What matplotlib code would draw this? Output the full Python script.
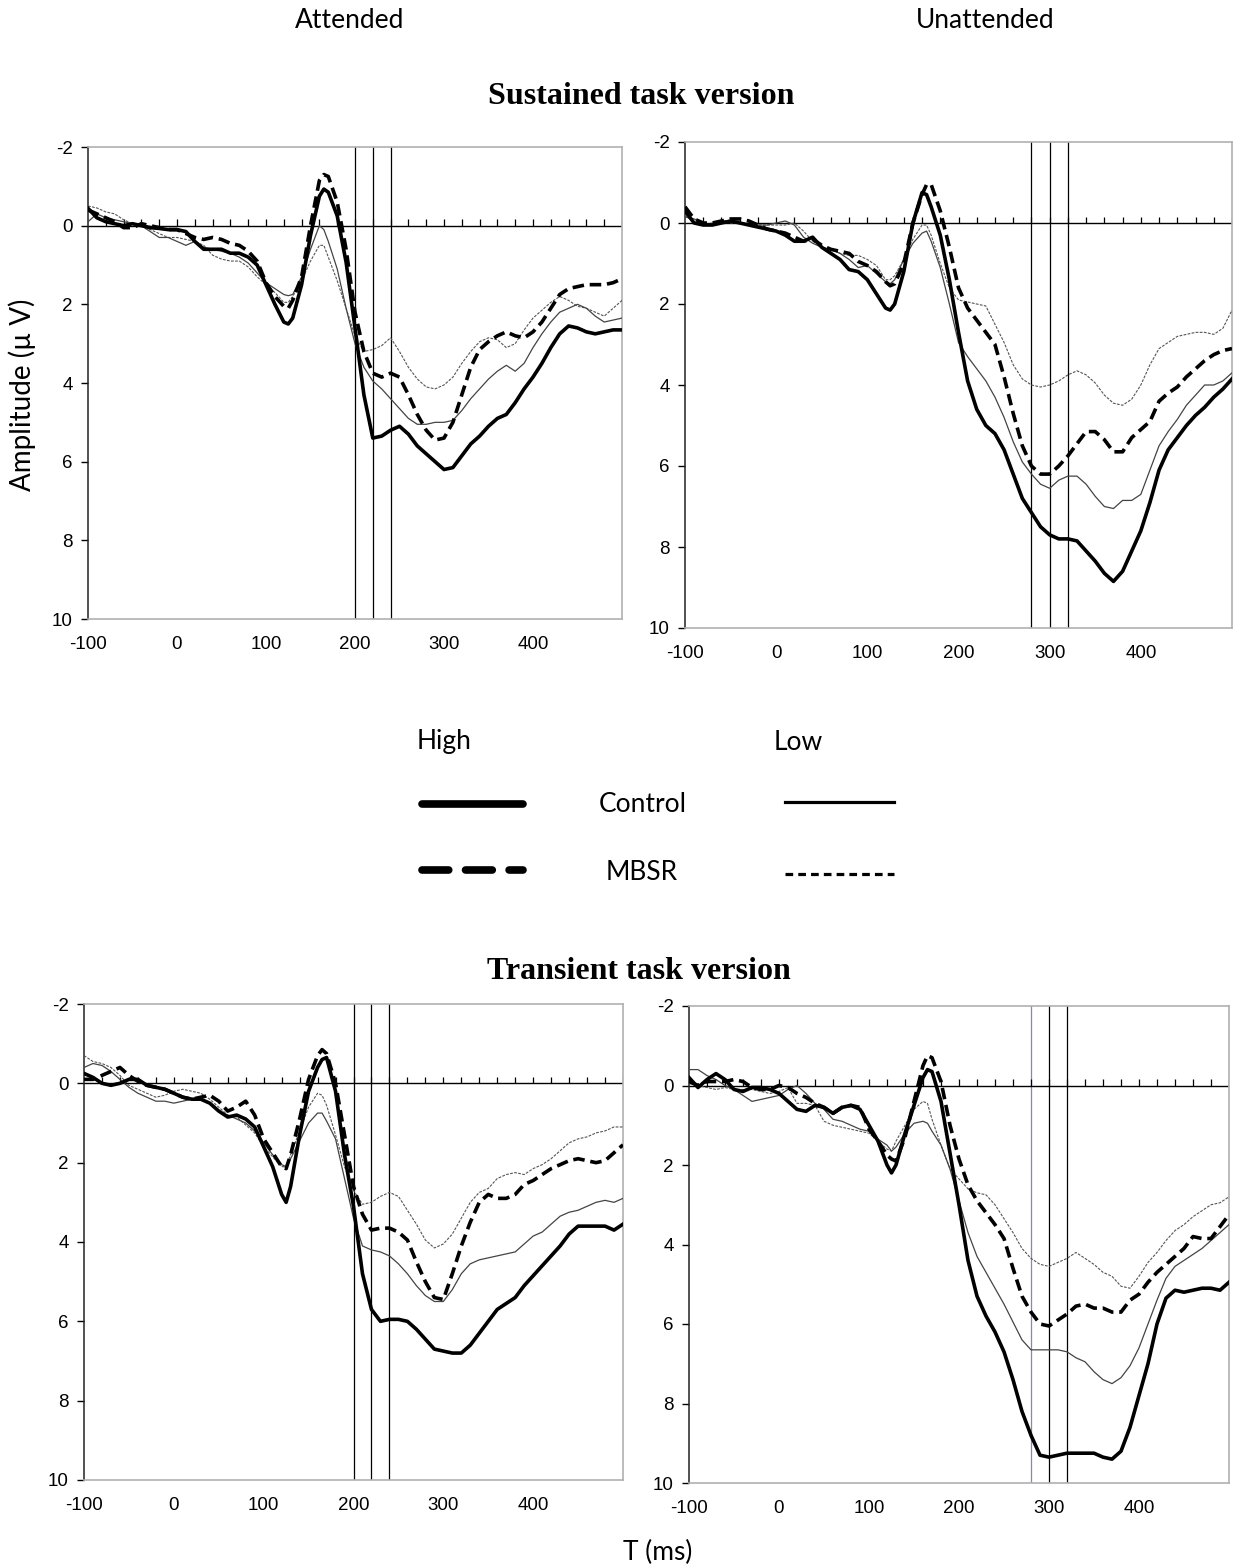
import numpy as np
import matplotlib
matplotlib.use("Agg")
import matplotlib.pyplot as plt
from matplotlib.lines import Line2D

plt.rcParams["axes.unicode_minus"] = False

# time base (ms)
TIME = [-100, -90, -80, -70, -60, -50, -40, -30, -20, -10, 0, 10, 20, 30, 40, 50,
        60, 70, 80, 90, 100, 110, 120, 125, 130, 140, 150, 160, 165, 170, 180,
        190, 200, 210, 220, 230, 240, 250, 260, 270, 280, 290, 300, 310, 320,
        330, 340, 350, 360, 370, 380, 390, 400, 410, 420, 430, 440, 450, 460,
        470, 480, 490, 500]

# ---- Sustained, attended (uV) ----
sus_att_high_control = [-0.44, -0.2, -0.1, -0.05, 0.0, -0.05, 0.0, 0.05, 0.07, 0.1, 0.1, 0.15, 0.4, 0.6, 0.6, 0.6,
                        0.7, 0.7, 0.8, 1.0, 1.5, 2.0, 2.45, 2.5, 2.35, 1.5, 0.25, -0.75, -0.93, -0.85, -0.25,
                        0.93, 2.6, 4.3, 5.4, 5.35, 5.2, 5.1, 5.3, 5.6, 5.8, 6.0, 6.2, 6.15, 5.85,
                        5.55, 5.35, 5.1, 4.9, 4.8, 4.5, 4.15, 3.85, 3.5, 3.1, 2.75, 2.55, 2.6, 2.7,
                        2.75, 2.7, 2.65, 2.65]
sus_att_high_mbsr = [-0.4, -0.3, -0.2, -0.1, 0.05, 0.05, -0.05, 0.0, 0.05, 0.1, 0.1, 0.2, 0.3, 0.35, 0.3, 0.35,
                     0.45, 0.5, 0.65, 0.9, 1.45, 1.8, 2.05, 2.1, 1.9, 1.3, 0.0, -1.15, -1.3, -1.25, -0.6,
                     0.6, 2.2, 3.2, 3.75, 3.85, 3.75, 3.85, 4.3, 4.8, 5.2, 5.45, 5.4, 5.0, 4.3,
                     3.6, 3.15, 2.95, 2.8, 2.7, 2.8, 2.85, 2.7, 2.45, 2.1, 1.75, 1.6, 1.55, 1.5,
                     1.5, 1.5, 1.45, 1.35]
sus_att_low_control = [-0.1, -0.3, -0.2, -0.15, -0.1, -0.05, 0.0, 0.15, 0.3, 0.3, 0.4, 0.5, 0.4, 0.55, 0.6, 0.65,
                       0.7, 0.8, 0.95, 1.2, 1.45, 1.6, 1.75, 1.78, 1.75, 1.3, 0.6, 0.0, 0.1, 0.4, 1.1,
                       2.1, 3.0, 3.6, 3.95, 4.15, 4.4, 4.65, 4.9, 5.05, 5.05, 5.0, 5.0, 4.95, 4.7,
                       4.4, 4.15, 3.9, 3.7, 3.55, 3.7, 3.5, 3.1, 2.75, 2.45, 2.2, 2.1, 2.0, 2.1,
                       2.3, 2.45, 2.4, 2.35]
sus_att_low_mbsr = [-0.5, -0.45, -0.35, -0.3, -0.15, -0.05, 0.0, 0.1, 0.2, 0.3, 0.3, 0.35, 0.4, 0.5, 0.75, 0.85,
                    0.9, 0.9, 1.05, 1.3, 1.5, 1.7, 1.95, 1.95, 1.8, 1.4, 0.9, 0.5, 0.5, 0.8, 1.4,
                    2.1, 2.8, 3.2, 3.15, 3.05, 2.85, 3.2, 3.6, 3.9, 4.1, 4.15, 4.05, 3.85, 3.5,
                    3.2, 2.95, 2.85, 2.9, 3.1, 3.0, 2.65, 2.35, 2.15, 1.95, 1.8, 1.9, 2.05, 2.1,
                    2.2, 2.3, 2.1, 1.9]

# ---- Sustained, unattended ----
sus_una_high_control = [-0.3, 0.0, 0.05, 0.05, 0.0, -0.05, 0.0, 0.05, 0.1, 0.15, 0.2, 0.3, 0.45, 0.45, 0.35, 0.6,
                        0.75, 0.9, 1.15, 1.2, 1.4, 1.75, 2.1, 2.15, 2.0, 1.2, 0.0, -0.75, -0.7, -0.4, 0.3,
                        1.4, 2.7, 3.9, 4.6, 5.0, 5.2, 5.6, 6.2, 6.8, 7.15, 7.5, 7.7, 7.8, 7.8,
                        7.85, 8.1, 8.35, 8.65, 8.85, 8.6, 8.1, 7.6, 6.9, 6.1, 5.6, 5.3, 5.0, 4.75,
                        4.55, 4.3, 4.1, 3.85]
sus_una_high_mbsr = [-0.4, -0.1, 0.0, 0.0, -0.05, -0.1, -0.1, -0.05, 0.05, 0.15, 0.2, 0.25, 0.35, 0.45, 0.4, 0.55,
                     0.65, 0.7, 0.75, 0.95, 1.05, 1.2, 1.45, 1.55, 1.5, 1.0, 0.0, -0.7, -0.95, -0.95, -0.3,
                     0.6, 1.6, 2.1, 2.4, 2.7, 3.0, 3.8, 4.7, 5.5, 6.0, 6.2, 6.2, 6.0, 5.75,
                     5.45, 5.15, 5.15, 5.35, 5.65, 5.65, 5.3, 5.1, 4.9, 4.4, 4.2, 4.05, 3.8, 3.6,
                     3.4, 3.25, 3.15, 3.1]
sus_una_low_control = [-0.15, -0.1, 0.0, 0.05, -0.05, -0.05, 0.0, 0.05, 0.05, 0.05, 0.0, -0.05, 0.05, 0.35, 0.5, 0.6,
                       0.65, 0.75, 0.9, 1.1, 1.05, 1.25, 1.45, 1.5, 1.4, 0.9, 0.5, 0.25, 0.2, 0.45, 1.1,
                       2.0, 2.95, 3.3, 3.6, 3.9, 4.3, 4.8, 5.4, 5.9, 6.2, 6.45, 6.55, 6.35, 6.25,
                       6.25, 6.45, 6.75, 7.0, 7.05, 6.85, 6.85, 6.7, 6.1, 5.5, 5.15, 4.85, 4.5, 4.25,
                       4.0, 4.0, 3.9, 3.7]
sus_una_low_mbsr = [-0.2, 0.0, 0.05, 0.0, -0.05, 0.0, 0.0, 0.05, 0.05, 0.05, 0.05, 0.05, 0.0, 0.2, 0.45, 0.6,
                    0.65, 0.75, 0.8, 0.8, 0.9, 1.05, 1.4, 1.4, 1.3, 0.9, 0.4, 0.05, 0.05, 0.3, 1.0,
                    1.6, 1.9, 1.95, 2.0, 2.05, 2.5, 2.95, 3.5, 3.85, 4.0, 4.05, 4.0, 3.9, 3.75,
                    3.65, 3.75, 3.95, 4.25, 4.45, 4.5, 4.35, 4.0, 3.5, 3.1, 2.95, 2.8, 2.75, 2.7,
                    2.7, 2.75, 2.6, 2.15]

# ---- Transient, attended ----
tra_att_high_control = [-0.25, -0.15, 0.0, 0.05, 0.0, -0.1, -0.1, 0.05, 0.1, 0.15, 0.25, 0.35, 0.4, 0.4, 0.5, 0.7,
                        0.85, 0.8, 0.9, 1.1, 1.6, 2.1, 2.8, 3.0, 2.6, 1.3, 0.2, -0.4, -0.6, -0.65, 0.2,
                        1.8, 3.1, 4.8, 5.7, 6.0, 5.95, 5.95, 6.0, 6.2, 6.45, 6.7, 6.75, 6.8, 6.8,
                        6.6, 6.3, 6.0, 5.7, 5.55, 5.4, 5.1, 4.85, 4.6, 4.35, 4.1, 3.8, 3.6, 3.6,
                        3.6, 3.6, 3.7, 3.55]
tra_att_high_mbsr = [-0.1, -0.1, -0.2, -0.3, -0.4, -0.2, -0.05, 0.05, 0.1, 0.15, 0.25, 0.35, 0.4, 0.35, 0.3, 0.45,
                     0.7, 0.6, 0.45, 0.8, 1.4, 1.75, 2.1, 2.15, 1.8, 0.9, -0.1, -0.7, -0.85, -0.75, 0.0,
                     1.3, 2.6, 3.3, 3.7, 3.65, 3.65, 3.75, 3.95, 4.5, 5.0, 5.4, 5.45, 4.8, 4.1,
                     3.5, 3.0, 2.8, 2.9, 2.9, 2.8, 2.55, 2.45, 2.3, 2.15, 2.05, 1.95, 1.9, 1.95,
                     2.0, 1.95, 1.75, 1.55]
tra_att_low_control = [-0.4, -0.5, -0.45, -0.3, -0.1, 0.1, 0.25, 0.35, 0.45, 0.45, 0.5, 0.45, 0.4, 0.4, 0.5, 0.7,
                       0.8, 0.9, 1.0, 1.2, 1.5, 1.8, 2.05, 2.1, 1.9, 1.45, 1.0, 0.75, 0.75, 0.95, 1.4,
                       2.4, 3.4, 4.1, 4.2, 4.25, 4.35, 4.55, 4.8, 5.1, 5.35, 5.5, 5.5, 5.2, 4.8,
                       4.55, 4.45, 4.4, 4.35, 4.3, 4.25, 4.05, 3.85, 3.75, 3.55, 3.35, 3.25, 3.2, 3.1,
                       3.0, 2.95, 3.0, 2.9]
tra_att_low_mbsr = [-0.7, -0.55, -0.5, -0.4, -0.2, 0.05, 0.15, 0.25, 0.35, 0.3, 0.2, 0.15, 0.2, 0.25, 0.4, 0.6,
                    0.8, 0.85, 1.05, 1.25, 1.6, 1.85, 2.1, 2.1, 1.8, 1.2, 0.6, 0.25, 0.3, 0.55, 1.3,
                    2.1, 2.7, 3.05, 3.0, 2.85, 2.75, 2.85, 3.2, 3.55, 3.95, 4.15, 4.05, 3.8, 3.4,
                    3.0, 2.75, 2.65, 2.4, 2.3, 2.25, 2.3, 2.15, 2.05, 1.9, 1.7, 1.5, 1.4, 1.35,
                    1.25, 1.2, 1.1, 1.1]

# ---- Transient, unattended ----
tra_una_high_control = [-0.2, 0.05, -0.15, -0.3, -0.15, 0.1, 0.15, 0.05, 0.05, 0.1, 0.2, 0.4, 0.6, 0.65, 0.5, 0.55,
                        0.7, 0.55, 0.5, 0.6, 1.0, 1.4, 2.0, 2.2, 2.0, 1.2, 0.5, -0.2, -0.4, -0.35, 0.4,
                        1.7, 3.0, 4.4, 5.3, 5.8, 6.2, 6.7, 7.4, 8.2, 8.8, 9.3, 9.35, 9.3, 9.25,
                        9.25, 9.25, 9.25, 9.35, 9.4, 9.2, 8.6, 7.8, 7.0, 6.0, 5.35, 5.15, 5.2, 5.15,
                        5.1, 5.1, 5.15, 4.95]
tra_una_high_mbsr = [-0.1, 0.0, -0.1, -0.1, -0.1, -0.15, -0.1, 0.05, 0.1, 0.1, 0.0, 0.05, 0.2, 0.3, 0.45, 0.55,
                     0.7, 0.55, 0.5, 0.55, 1.1, 1.4, 1.75, 1.85, 1.9, 1.3, 0.4, -0.5, -0.75, -0.7, -0.1,
                     1.0, 1.85, 2.5, 2.9, 3.2, 3.5, 3.85, 4.6, 5.3, 5.7, 6.0, 6.05, 5.9, 5.75,
                     5.55, 5.5, 5.6, 5.6, 5.7, 5.7, 5.4, 5.25, 4.95, 4.7, 4.5, 4.3, 4.1, 3.8,
                     3.85, 3.85, 3.55, 3.25]
tra_una_low_control = [-0.4, -0.4, -0.25, -0.15, 0.0, 0.1, 0.25, 0.4, 0.35, 0.3, 0.25, 0.1, 0.0, 0.2, 0.45, 0.6,
                       0.85, 0.9, 1.0, 1.1, 1.15, 1.35, 1.5, 1.65, 1.55, 1.2, 0.95, 0.9, 0.95, 1.15, 1.5,
                       2.1, 2.9, 3.7, 4.3, 4.7, 5.1, 5.5, 5.95, 6.4, 6.65, 6.65, 6.65, 6.65, 6.7,
                       6.85, 6.95, 7.2, 7.4, 7.5, 7.35, 7.05, 6.6, 6.0, 5.4, 4.85, 4.55, 4.4, 4.25,
                       4.1, 3.9, 3.7, 3.5]
tra_una_low_mbsr = [-0.05, 0.0, 0.05, 0.1, 0.05, 0.1, 0.1, 0.1, 0.15, 0.2, 0.15, 0.05, 0.45, 0.45, 0.5, 0.9,
                    1.0, 1.05, 1.1, 1.15, 1.2, 1.4, 1.6, 1.65, 1.4, 1.0, 0.6, 0.4, 0.45, 0.85, 1.5,
                    2.1, 2.35, 2.6, 2.7, 2.75, 3.0, 3.35, 3.7, 4.1, 4.35, 4.5, 4.55, 4.45, 4.35,
                    4.2, 4.35, 4.5, 4.7, 4.8, 5.05, 5.1, 4.8, 4.45, 4.2, 3.9, 3.65, 3.5, 3.3,
                    3.15, 3.0, 2.95, 2.8]

YTICKS = [-2, 0, 2, 4, 6, 8, 10]
XTICKS = [-100, 0, 100, 200, 300, 400]
ATT_WINDOW = [200, 220, 240]
UNA_WINDOW = [280, 300, 320]

W, H = 1235, 1566
CALIBRI_LIKE = ["Lato", "DejaVu Sans"]
LABEL_SIZE = 19


def px_axes(fig, left, right, top, bottom):
    return fig.add_axes([left / W, 1 - bottom / H, (right - left) / W, (bottom - top) / H])


def draw_panel(ax, hc, hm, lc, lm, window, window_colors):
    t = np.array(TIME)
    ax.plot(t, lm, color="#555555", lw=0.8, dashes=(2.5, 1.2), zorder=3)
    ax.plot(t, lc, color="#444444", lw=0.9, zorder=3)
    ax.plot(t, hm, color="black", lw=2.6, dashes=(3.2, 1.6), zorder=4)
    ax.plot(t, hc, color="black", lw=2.6, zorder=5)

    for x, c in zip(window, window_colors):
        ax.axvline(x, color=c, lw=0.9, zorder=2)

    ax.axhline(0, color="black", lw=1.0, zorder=2)
    # small ticks on the zero line
    ax.vlines(np.arange(-80, 501, 20), -0.16, 0, color="black", lw=0.9, zorder=2)

    ax.set_xlim(-100, 500)
    ax.set_ylim(10, -2)
    ax.set_xticks(XTICKS)
    ax.set_yticks(YTICKS)
    ax.tick_params(axis="x", length=0, pad=12, labelsize=13.5)
    ax.tick_params(axis="y", direction="out", length=5, width=1, pad=6, labelsize=13.5)
    for lab in ax.get_xticklabels() + ax.get_yticklabels():
        lab.set_family("Liberation Sans")
    ax.spines["left"].set_color("#222222")
    ax.spines["left"].set_linewidth(1.1)
    for s in ("top", "right", "bottom"):
        ax.spines[s].set_color("#b0b0b0")
        ax.spines[s].set_linewidth(1.2)


def main():
    fig = plt.figure(figsize=(W / 100, H / 100), dpi=100)

    ax1 = px_axes(fig, 88, 622, 147, 619)
    ax2 = px_axes(fig, 685, 1232, 142, 628)
    ax3 = px_axes(fig, 84, 623, 1004, 1480)
    ax4 = px_axes(fig, 689, 1229, 1006, 1483)

    draw_panel(ax1, sus_att_high_control, sus_att_high_mbsr, sus_att_low_control, sus_att_low_mbsr,
               ATT_WINDOW, ["black"] * 3)
    draw_panel(ax2, sus_una_high_control, sus_una_high_mbsr, sus_una_low_control, sus_una_low_mbsr,
               UNA_WINDOW, ["black"] * 3)
    draw_panel(ax3, tra_att_high_control, tra_att_high_mbsr, tra_att_low_control, tra_att_low_mbsr,
               ATT_WINDOW, ["black"] * 3)
    draw_panel(ax4, tra_una_high_control, tra_una_high_mbsr, tra_una_low_control, tra_una_low_mbsr,
               UNA_WINDOW, ["#7d8fa3", "black", "black"])

    # column headers and section titles
    fig.text(350 / W, 1 - 21 / H, "Attended", ha="center", va="center", fontsize=LABEL_SIZE, family=CALIBRI_LIKE)
    fig.text(985 / W, 1 - 21 / H, "Unattended", ha="center", va="center", fontsize=LABEL_SIZE, family=CALIBRI_LIKE)
    fig.text(641 / W, 1 - 96 / H, "Sustained task version", ha="center", va="center",
             fontsize=23, fontweight="bold", family="Liberation Serif")
    fig.text(639 / W, 1 - 971 / H, "Transient task version", ha="center", va="center",
             fontsize=23, fontweight="bold", family="Liberation Serif")
    fig.text(22 / W, 1 - 395 / H, "Amplitude (\u00b5 V)", ha="center", va="center", rotation=90,
             fontsize=LABEL_SIZE + 1, family=CALIBRI_LIKE)
    fig.text(658 / W, 1 - 1552 / H, "T (ms)", ha="center", va="center", fontsize=LABEL_SIZE, family=CALIBRI_LIKE)

    # legend drawn as its own little panel
    lax = fig.add_axes([0, 0, 1, 1], zorder=-1)
    lax.set_xlim(0, W)
    lax.set_ylim(H, 0)
    lax.axis("off")
    lax.text(444, 742, "High", ha="center", va="center", fontsize=LABEL_SIZE, family=CALIBRI_LIKE)
    lax.text(798, 742, "Low", ha="center", va="center", fontsize=LABEL_SIZE, family=CALIBRI_LIKE)
    lax.text(643, 804, "Control", ha="center", va="center", fontsize=LABEL_SIZE, family=CALIBRI_LIKE)
    lax.text(642, 872, "MBSR", ha="center", va="center", fontsize=LABEL_SIZE, family=CALIBRI_LIKE)
    lax.add_line(Line2D([422, 523], [804, 804], color="black", lw=5.5, solid_capstyle="round"))
    lax.add_line(Line2D([422, 523], [870, 870], color="black", lw=5.5, dashes=(3.5, 2.2),
                        dash_capstyle="round"))
    lax.add_line(Line2D([785, 894], [802, 802], color="black", lw=2.3))
    lax.add_line(Line2D([785, 894], [874, 874], color="black", lw=2.3, dashes=(2.4, 1.6)))

    fig.savefig("out.png", dpi=100)


if __name__ == "__main__":
    main()
